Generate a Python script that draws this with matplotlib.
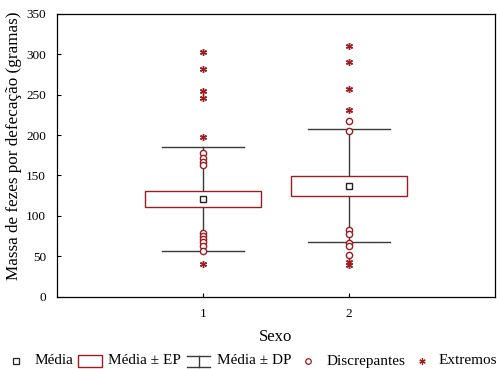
import matplotlib
matplotlib.use("Agg")
import matplotlib.pyplot as plt
from matplotlib.lines import Line2D
from matplotlib.patches import Rectangle

plt.rcParams['font.family'] = ['Liberation Serif', 'DejaVu Serif']

# Group summary statistics
groups = [1, 2]
means = [120.5, 137.0]
std_errs = [9.7, 12.7]
std_devs = [64.5, 70.0]

# Outliers (open circles) and extremes (asterisks) per group
outliers_1 = [178, 172, 167, 163, 79, 75, 71, 67, 63, 56]
outliers_2 = [218, 205, 82, 77, 66, 62, 51]
extremes_1 = [303, 282, 254, 246, 197, 40]
extremes_2 = [310, 291, 257, 231, 43, 39]
outliers = [outliers_1, outliers_2]
extremes = [extremes_1, extremes_2]

y_ticks = [0, 50, 100, 150, 200, 250, 300, 350]

RED = '#9e1b1f'
WHISK = '#3a3a3a'
BOX_W = 0.8
CAP_W = 0.56

W, H = 497, 369
fig = plt.figure(figsize=(W / 100, H / 100), dpi=100)
ax = fig.add_axes([57 / W, 1 - 296.5 / H, (495 - 57) / W, (296.5 - 14) / H])

for x, m, se, sd, out, ext in zip(groups, means, std_errs, std_devs, outliers, extremes):
    # whisker stems and caps (mean ± SD)
    ax.plot([x, x], [m + se, m + sd], color=WHISK, lw=1.0, zorder=2)
    ax.plot([x, x], [m - sd, m - se], color=WHISK, lw=1.0, zorder=2)
    ax.plot([x - CAP_W / 2, x + CAP_W / 2], [m + sd, m + sd], color=WHISK, lw=1.0, zorder=2)
    ax.plot([x - CAP_W / 2, x + CAP_W / 2], [m - sd, m - sd], color=WHISK, lw=1.0, zorder=2)
    # box (mean ± SE)
    ax.add_patch(Rectangle((x - BOX_W / 2, m - se), BOX_W, 2 * se,
                           facecolor='white', edgecolor=RED, lw=1.0, zorder=3))
    # mean
    ax.plot([x], [m], marker='s', ms=4.5, mfc='white', mec='#222222', mew=1.0, zorder=4)
    ax.plot([x] * len(out), out, ls='none', marker='o', ms=4.5, mfc='white',
            mec=RED, mew=1.0, zorder=4)
    ax.plot([x] * len(ext), ext, ls='none', marker=(6, 2, 0), ms=5, mec=RED,
            mew=1.0, zorder=4)

ax.set_xlim(0, 3)
ax.set_ylim(0, 350)
ax.set_xticks(groups)
ax.set_xticklabels([str(g) for g in groups])
ax.set_yticks(y_ticks)
ax.tick_params(direction='in', length=3, width=0.8, labelsize=9.5)
ax.tick_params(axis='x', pad=8)
ax.tick_params(axis='y', pad=8)
for s in ax.spines.values():
    s.set_linewidth(0.9)
ax.set_xlabel('Sexo', fontsize=12, labelpad=7)
ax.set_ylabel('Massa de fezes por defecação (gramas)', fontsize=12.3)
ax.yaxis.set_label_coords(-0.079, 0.535)

# Legend row drawn in figure pixel coordinates
def fx(px):
    return px / W

def fy(py):
    return 1 - py / H

ly = 361
fs = 11
fig.add_artist(Line2D([fx(16)], [fy(ly)], marker='s', ms=4, mfc='white', mec='#222222',
                      mew=0.9, transform=fig.transFigure))
fig.text(fx(35), fy(ly), 'Média', fontsize=fs, va='center', ha='left')
fig.add_artist(Rectangle((fx(78), fy(367)), fx(102) - fx(78), fy(355) - fy(367),
                         facecolor='white', edgecolor=RED, lw=1.0, transform=fig.transFigure))
fig.text(fx(108), fy(ly), 'Média ± EP', fontsize=fs, va='center', ha='left')
fig.add_artist(Line2D([fx(187), fx(210)], [fy(356), fy(356)], color=WHISK, lw=1.0,
                      transform=fig.transFigure))
fig.add_artist(Line2D([fx(187), fx(210)], [fy(367), fy(367)], color=WHISK, lw=1.0,
                      transform=fig.transFigure))
fig.add_artist(Line2D([fx(198.5), fx(198.5)], [fy(356), fy(367)], color=WHISK, lw=1.0,
                      transform=fig.transFigure))
fig.text(fx(217), fy(ly), 'Média ± DP', fontsize=fs, va='center', ha='left')
fig.add_artist(Line2D([fx(308)], [fy(ly)], marker='o', ms=4, mfc='white', mec=RED,
                      mew=0.9, transform=fig.transFigure))
fig.text(fx(327), fy(ly), 'Discrepantes', fontsize=fs, va='center', ha='left')
fig.add_artist(Line2D([fx(422)], [fy(ly)], marker=(6, 2, 0), ms=4.5, mec=RED,
                      mew=0.9, transform=fig.transFigure))
fig.text(fx(439), fy(ly), 'Extremos', fontsize=fs, va='center', ha='left')

fig.savefig('out.png', dpi=100, facecolor='white')
